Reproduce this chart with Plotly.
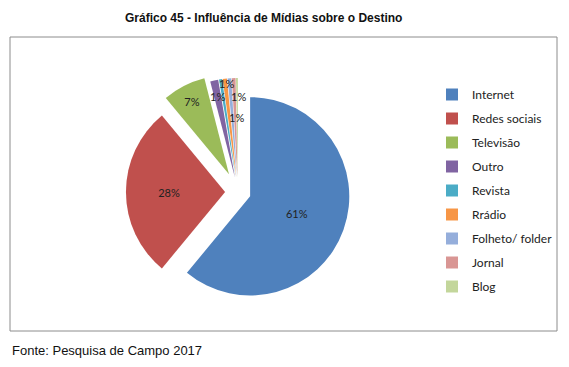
import plotly.graph_objects as go

categories = ["Internet", "Redes sociais", "Televisão", "Outro", "Revista", "Rrádio",
              "Folheto/ folder", "Jornal", "Blog"]
values = [61, 28, 7, 1.3, 0.5, 0.7, 0.6, 0.6, 0.3]
labels_text = ["61%", "28%", "7%", "", "", "", "", "", ""]
small_labels = ["1%", "1%", "1%", "1%"]
colors = ["#4F81BD", "#C0504D", "#9BBB59", "#8064A2", "#4BACC6", "#F79646",
          "#95AEDB", "#D99694", "#C3D69B"]

W, H = 569, 367
PAD = 8  # default body margin of the html page
FW, FH = W - 2 * PAD, H - 2 * PAD

def px(x):
    return (x - PAD) / FW

def py(y):
    return 1 - (y - PAD) / FH

fig = go.Figure()
fig.add_trace(go.Pie(
    labels=categories,
    values=values,
    text=labels_text,
    textinfo="text",
    sort=False,
    direction="clockwise",
    rotation=0,
    pull=[0.13, 0.13, 0.2, 0.15, 0.15, 0.15, 0.15, 0.15, 0.15],
    marker=dict(colors=colors, line=dict(color="white", width=0)),
    textfont=dict(family="Lato, sans-serif", size=11, color="#222222"),
    insidetextorientation="horizontal",
    textposition="inside",
    domain=dict(x=[px(119), px(357)], y=[py(311), py(73)]),
    hoverinfo="label+percent",
    showlegend=False,
))

# legend entries
for name, col in zip(categories, colors):
    fig.add_trace(go.Scatter(
        x=[None], y=[None], mode="markers", name=name,
        marker=dict(symbol="square", size=8, color=col),
        legendgroup=name, showlegend=True,
    ))

# labels for the thin slices
small_pos = [(226, 83), (217, 96), (238, 96), (236, 117)]
for t, (x, y) in zip(small_labels, small_pos):
    fig.add_annotation(text=t, xref="paper", yref="paper", x=px(x), y=py(y),
                       showarrow=False, xanchor="center", yanchor="middle",
                       font=dict(family="Lato, sans-serif", size=11, color="#222222"))

fig.add_shape(type="rect", xref="paper", yref="paper",
              x0=px(10), x1=px(557), y0=py(331), y1=py(37),
              line=dict(color="#8c8c8c", width=1), fillcolor="rgba(0,0,0,0)")

fig.add_annotation(text="<b>Gráfico 45 - Influência de Mídias sobre o Destino</b>",
                   xref="paper", yref="paper", x=px(263), y=py(18),
                   showarrow=False, xanchor="center", yanchor="middle",
                   font=dict(family="Liberation Sans, Arial, sans-serif", size=12, color="#111111"))
fig.add_annotation(text="Fonte: Pesquisa de Campo 2017",
                   xref="paper", yref="paper", x=px(10), y=py(350),
                   showarrow=False, xanchor="left", yanchor="middle",
                   font=dict(family="Liberation Sans, Arial, sans-serif", size=13, color="#111111"))

fig.update_layout(
    width=FW, height=FH,
    margin=dict(l=0, r=0, t=0, b=0),
    paper_bgcolor="white",
    plot_bgcolor="white",
    showlegend=True,
    xaxis=dict(visible=False, domain=[0.9, 0.91]),
    yaxis=dict(visible=False, domain=[0.9, 0.91]),
    legend=dict(x=px(432), y=py(80), xanchor="left", yanchor="top",
                font=dict(family="Lato, sans-serif", size=12, color="#222222"),
                itemsizing="constant", tracegroupgap=5,
                bgcolor="rgba(0,0,0,0)"),
)

fig.write_html("out.html")
